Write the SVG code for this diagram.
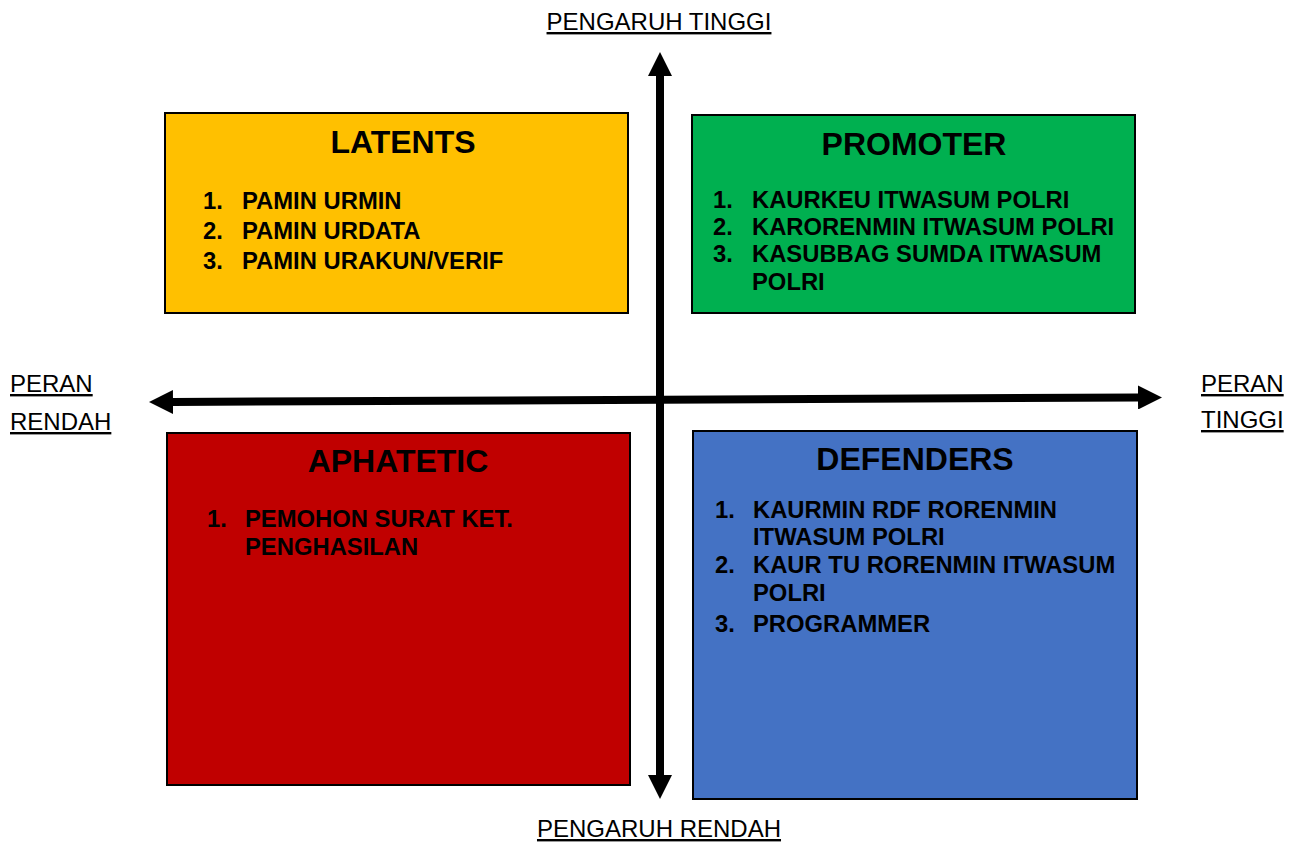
<svg xmlns="http://www.w3.org/2000/svg" width="1300" height="843" viewBox="0 0 1300 843">
<style>
.box{stroke:#000;stroke-width:2}
.title{font-family:"Liberation Sans",Arial,sans-serif;font-weight:bold;font-size:32px;text-anchor:middle;fill:#000}
.item{font-family:"Liberation Sans",Arial,sans-serif;font-weight:bold;font-size:23.8px;fill:#000}
.axis{font-family:"Liberation Sans",Arial,sans-serif;font-size:24px;fill:#000;text-decoration:underline}
.arrow{stroke:#000;stroke-width:8;fill:none;marker-start:url(#ah);marker-end:url(#ah)}
</style>
<defs>
<marker id="ah" markerUnits="userSpaceOnUse" markerWidth="24" markerHeight="24" refX="0" refY="12" orient="auto-start-reverse" viewBox="0 0 24 24">
<path d="M0,0 L24,12 L0,24 z" fill="#000"/>
</marker>
</defs>
<rect width="1300" height="843" fill="#fff"/>
<g id="latents">
<rect class="box" x="165" y="113" width="463" height="200" fill="#FFC000"/>
<text class="title" x="403" y="153">LATENTS</text>
<text class="item" x="203" y="209">1.</text><text class="item" x="242" y="209">PAMIN URMIN</text>
<text class="item" x="203" y="239">2.</text><text class="item" x="242" y="239">PAMIN URDATA</text>
<text class="item" x="203" y="269">3.</text><text class="item" x="242" y="269">PAMIN URAKUN/VERIF</text>
</g>
<g id="promoter">
<rect class="box" x="692" y="115" width="443" height="198" fill="#00B050"/>
<text class="title" x="914" y="155">PROMOTER</text>
<text class="item" x="713" y="208">1.</text><text class="item" x="752" y="208">KAURKEU ITWASUM POLRI</text>
<text class="item" x="713" y="235">2.</text><text class="item" x="752" y="235">KARORENMIN ITWASUM POLRI</text>
<text class="item" x="713" y="262">3.</text><text class="item" x="752" y="262">KASUBBAG SUMDA ITWASUM</text>
<text class="item" x="752" y="290">POLRI</text>
</g>
<g id="aphatetic">
<rect class="box" x="167" y="433" width="463" height="352" fill="#C00000"/>
<text class="title" x="398" y="472">APHATETIC</text>
<text class="item" x="207" y="527">1.</text><text class="item" x="245" y="527">PEMOHON SURAT KET.</text>
<text class="item" x="245" y="555">PENGHASILAN</text>
</g>
<g id="defenders">
<rect class="box" x="693" y="431" width="444" height="368" fill="#4472C4"/>
<text class="title" x="915" y="470">DEFENDERS</text>
<text class="item" x="715" y="518">1.</text><text class="item" x="753" y="518">KAURMIN RDF RORENMIN</text>
<text class="item" x="753" y="545">ITWASUM POLRI</text>
<text class="item" x="715" y="573">2.</text><text class="item" x="753" y="573">KAUR TU RORENMIN ITWASUM</text>
<text class="item" x="753" y="601">POLRI</text>
<text class="item" x="715" y="632">3.</text><text class="item" x="753" y="632">PROGRAMMER</text>
</g>
<g id="connectors">
<line class="arrow" x1="660" y1="76" x2="660" y2="775"/>
<line class="arrow" x1="173" y1="402" x2="1138" y2="397.5"/>
</g>
<g id="labels">
<text class="axis" x="659" y="30" text-anchor="middle" font-size="24.5">PENGARUH TINGGI</text>
<text class="axis" x="659" y="837" text-anchor="middle" font-size="24.5">PENGARUH RENDAH</text>
<text class="axis" x="10" y="392">PERAN</text>
<text class="axis" x="10" y="430">RENDAH</text>
<text class="axis" x="1201" y="392">PERAN</text>
<text class="axis" x="1201" y="428">TINGGI</text>
</g>
</svg>
